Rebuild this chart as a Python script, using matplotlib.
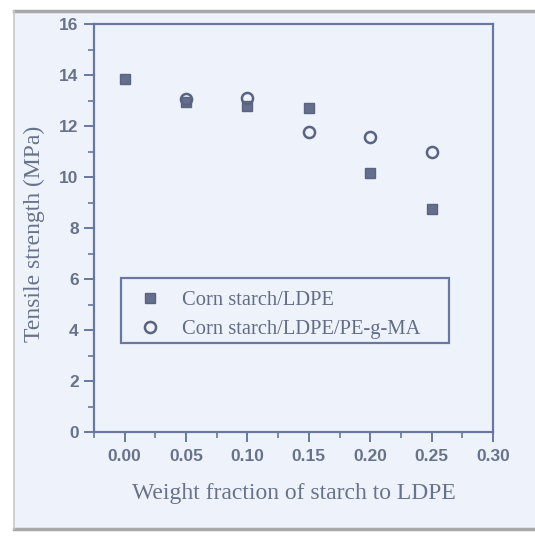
import matplotlib
matplotlib.use("Agg")
import matplotlib.pyplot as plt
from matplotlib.patches import Rectangle
from matplotlib.ticker import MultipleLocator

x_ldpe = [0.00, 0.05, 0.10, 0.15, 0.20, 0.25]
ldpe = [13.85, 12.95, 12.8, 12.7, 10.15, 8.75]
x_ma = [0.05, 0.10, 0.15, 0.20, 0.25]
ldpe_ma = [13.05, 13.1, 11.75, 11.55, 11.0]
labels = ["Corn starch/LDPE", "Corn starch/LDPE/PE-g-MA"]
xticks = [0.0, 0.05, 0.10, 0.15, 0.20, 0.25, 0.30]
xticklabels = ["0.00", "0.05", "0.10", "0.15", "0.20", "0.25", "0.30"]
xlabel = "Weight fraction of starch to LDPE"
ylabel = "Tensile strength (MPa)"

axis_col = "#6878a0"
text_col = "#68728a"
bg = "#eef3fb"

fig = plt.figure(figsize=(5.35, 5.40), dpi=100)
fig.patch.set_facecolor("white")
fig.patches.append(Rectangle((14/535, 1 - 529/540), 1 - 14/535, (529 - 11)/540,
                             transform=fig.transFigure, facecolor=bg,
                             edgecolor="none", zorder=-10))
fig.add_artist(plt.Line2D([14/535, 1], [1 - 11/540] * 2, color="#a8a8a8", lw=2.5, transform=fig.transFigure))
fig.add_artist(plt.Line2D([14/535, 1], [1 - 529/540] * 2, color="#a8a8a8", lw=2.5, transform=fig.transFigure))
fig.add_artist(plt.Line2D([14/535] * 2, [1 - 11/540, 1 - 529/540], color="#c8c8c8", lw=1.2, transform=fig.transFigure))

AX_L, AX_R, AX_T, AX_B = 94, 493, 24, 432
ax = fig.add_axes([AX_L/535, 1 - AX_B/540, (AX_R - AX_L)/535, (AX_B - AX_T)/540])
ax.set_facecolor("none")

ax.plot(x_ldpe, ldpe, linestyle="none", marker="s", ms=7, color="#656e8c",
        markeredgecolor="#5a6380", label=labels[0], zorder=3)
ax.plot(x_ma, ldpe_ma, linestyle="none", marker="o", ms=8, markerfacecolor="none",
        markeredgecolor="#5a6380", markeredgewidth=1.8, label=labels[1], zorder=4)

ax.set_xlim(-0.025, 0.30)
ax.set_ylim(0, 16)
ax.xaxis.set_minor_locator(MultipleLocator(0.025))
ax.yaxis.set_major_locator(MultipleLocator(2))
ax.yaxis.set_minor_locator(MultipleLocator(1))
ax.set_xticks(xticks)
ax.set_xticklabels(xticklabels)

for s in ax.spines.values():
    s.set_color(axis_col)
    s.set_linewidth(1.6)

ax.tick_params(axis="both", which="major", direction="out", length=7, width=1.4,
               color=axis_col, labelcolor=text_col, labelsize=12.5)
ax.tick_params(axis="both", which="minor", direction="out", length=4, width=1.2, color=axis_col)
for lab in ax.get_xticklabels() + ax.get_yticklabels():
    lab.set_fontfamily("Liberation Sans")
    lab.set_fontweight("bold")
ax.tick_params(axis="x", pad=5)
ax.tick_params(axis="y", pad=4)

ax.set_xlabel(xlabel, fontfamily="Liberation Serif", fontsize=17, color=text_col, labelpad=14)
ax.set_ylabel(ylabel, fontfamily="Liberation Serif", fontsize=17, color=text_col)
ax.yaxis.set_label_coords(-0.122, 0.485)

W, H = AX_R - AX_L, AX_B - AX_T
# legend frame
ax.add_patch(Rectangle(((121 - AX_L)/W, (AX_B - 343)/H), (449 - 121)/W, (343 - 278)/H,
                       transform=ax.transAxes, facecolor="none", edgecolor=axis_col,
                       linewidth=1.6, zorder=5))
leg = ax.legend(loc="upper left", bbox_to_anchor=((140 - AX_L)/W, (AX_B - 291)/H),
                prop={"family": "Liberation Serif", "size": 14.8}, frameon=False,
                borderpad=0, handletextpad=1.04, labelspacing=0.45,
                handlelength=1.0, borderaxespad=0)
for t in leg.get_texts():
    t.set_color("#626c84")

fig.savefig("out.png", dpi=100, facecolor=fig.get_facecolor())
